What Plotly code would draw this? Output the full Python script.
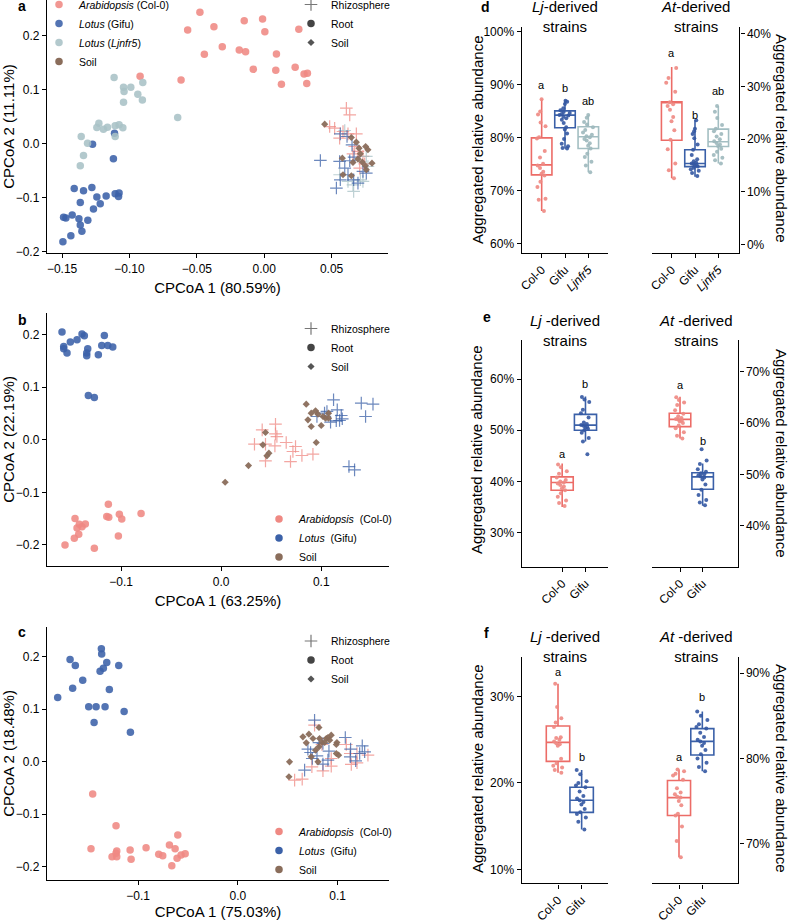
import plotly.graph_objects as go

W, H = 790, 920
FONT = "Liberation Sans, Arial, Helvetica, sans-serif"

# ---------------- colours ----------------
C_AT = "#EF8983"
C_LJ = "#3B61A8"
C_NFR = "#A8C2C6"
C_SOIL = "#8A6D5B"
C_SHAPE = "#555555"
BOX_AT = "#EC6C67"
BOX_LJ = "#3A60A8"
BOX_NFR = "#A3BEC2"

# ================= panel a (CPCoA, 3 genotypes) =================
a_root_col0 = [(-0.0477, 0.2439), (-0.0568, 0.2111), (-0.0373, 0.2173), (-0.0148, 0.2284),
               (-0.0012, 0.2315), (0.0005, 0.2080), (0.0257, 0.2124), (-0.0311, 0.1802),
               (-0.0444, 0.1660), (-0.0185, 0.1740), (-0.0138, 0.1709), (0.0091, 0.1666),
               (-0.0081, 0.1382), (0.0086, 0.1363), (0.0230, 0.1419), (0.0296, 0.1295),
               (0.0321, 0.1308), (0.0128, 0.1104), (0.0316, 0.1116), (-0.0617, 0.1184),
               (-0.0921, 0.1252)]
a_root_nfr5 = [(-0.1114, 0.1227), (-0.1044, 0.1048), (-0.0990, 0.1048), (-0.1040, 0.0968),
               (-0.0938, 0.0918), (-0.0901, 0.1134), (-0.0904, 0.0813), (-0.1044, 0.0770),
               (-0.0642, 0.0485), (-0.1227, 0.0380), (-0.1242, 0.0300), (-0.1163, 0.0306),
               (-0.1106, 0.0331), (-0.1077, 0.0349), (-0.1049, 0.0294), (-0.1193, 0.0269),
               (-0.1358, 0.0133), (-0.1311, 0.0009), (-0.1106, 0.0133), (-0.1341, -0.0219),
               (-0.1365, -0.0411)]
a_root_gifu = [(-0.1274, -0.0009), (-0.1111, 0.0195), (-0.1119, -0.0281), (-0.1410, -0.0831),
               (-0.1341, -0.0875), (-0.1279, -0.0813), (-0.1173, -0.0974), (-0.1106, -0.0930),
               (-0.1081, -0.0980), (-0.1077, -0.0918), (-0.1242, -0.0992), (-0.1217, -0.1116),
               (-0.1365, -0.1091), (-0.1267, -0.1215), (-0.1472, -0.1382), (-0.1425, -0.1326),
               (-0.1375, -0.1394), (-0.1309, -0.1425), (-0.1365, -0.1512), (-0.1353, -0.1629),
               (-0.1489, -0.1369), (-0.1435, -0.1709), (-0.1494, -0.1821)]
a_rhizo_col0 = [(0.0610, 0.0658), (0.0635, 0.0534), (0.0486, 0.0318), (0.0523, 0.0287),
                (0.0585, 0.0226), (0.0622, 0.0182), (0.0684, 0.0182), (0.0672, -0.0053),
                (0.0696, -0.0145), (0.0659, -0.0189), (0.0733, -0.0238), (0.0746, -0.0374),
                (0.0709, -0.0454), (0.0560, 0.0102)]
a_rhizo_gifu = [(0.0417, -0.0312), (0.0536, -0.0825), (0.0565, -0.0671), (0.0652, -0.0022),
                (0.0667, -0.0250), (0.0598, -0.0454), (0.0635, -0.0318), (0.0560, -0.0331),
                (0.0758, -0.0547), (0.0696, -0.0733), (0.0733, -0.0516), (0.0664, -0.0671),
                (0.0622, -0.0578), (0.0565, 0.0182), (0.0615, 0.0133)]
a_rhizo_nfr5 = [(0.0598, 0.0244), (0.0659, -0.0764), (0.0664, -0.0887), (0.0714, -0.0671),
                (0.0758, -0.0238), (0.0560, -0.0578), (0.0733, -0.0702), (0.0622, -0.0702),
                (0.0770, -0.0424)]
a_soil = [(0.0449, 0.0362), (0.0647, 0.0114), (0.0684, 0.0028), (0.0753, -0.0053),
          (0.0770, -0.0114), (0.0714, -0.0189), (0.0696, -0.0287), (0.0728, -0.0343),
          (0.0751, -0.0411), (0.0800, -0.0362), (0.0580, -0.0269), (0.0659, -0.0349),
          (0.0647, -0.0597), (0.0758, -0.0485), (0.0585, -0.0578), (0.0704, -0.0084)]

# ================= panel b =================
b_root_gifu = [(-0.1590, 0.2051), (-0.1573, 0.1778), (-0.1573, 0.1733), (-0.1540, 0.1651),
               (-0.1507, 0.1860), (-0.1440, 0.1905), (-0.1390, 0.2013), (-0.1367, 0.1981),
               (-0.1333, 0.1733), (-0.1343, 0.1651), (-0.1343, 0.1600), (-0.1227, 0.1619),
               (-0.1193, 0.1797), (-0.1167, 0.1987), (-0.1133, 0.1797), (-0.1083, 0.1765),
               (-0.1327, 0.0844), (-0.1267, 0.0806)]
b_root_col0 = [(-0.1127, -0.1225), (-0.1143, -0.1460), (-0.1123, -0.1473), (-0.1017, -0.1416),
               (-0.0993, -0.1505), (-0.0800, -0.1403), (-0.1027, -0.1829), (-0.1460, -0.1498),
               (-0.1417, -0.1606), (-0.1390, -0.1651), (-0.1440, -0.1676), (-0.1357, -0.1600),
               (-0.1423, -0.1797), (-0.1467, -0.1873), (-0.1560, -0.2000), (-0.1267, -0.2063)]
b_rhizo_col0 = [(0.0410, 0.0190), (0.0543, 0.0298), (0.0543, 0.0114), (0.0557, 0.0063),
                (0.0333, -0.0083), (0.0443, -0.0083), (0.0537, -0.0114), (0.0650, -0.0051),
                (0.0743, -0.0127), (0.0717, -0.0222), (0.0807, -0.0298), (0.0917, -0.0273),
                (0.0693, -0.0413), (0.0443, -0.0400)]
b_rhizo_gifu = [(0.1123, 0.0762), (0.1400, 0.0698), (0.1517, 0.0679), (0.1160, 0.0571),
                (0.1443, 0.0444), (0.0957, 0.0444), (0.1033, 0.0508), (0.1057, 0.0540),
                (0.1200, 0.0463), (0.1210, 0.0400), (0.1150, 0.0362), (0.1093, 0.0337),
                (0.1183, 0.0368), (0.1277, -0.0508), (0.1333, -0.0571)]
b_soil = [(0.0850, 0.0679), (0.0900, 0.0508), (0.0943, 0.0552), (0.0867, 0.0381),
          (0.0900, 0.0254), (0.1000, 0.0273), (0.1073, 0.0508), (0.1073, 0.0413),
          (0.1017, 0.0444), (0.0950, -0.0051), (0.0443, 0.0140), (0.0417, -0.0095),
          (0.0477, -0.0254), (0.0457, -0.0305), (0.0273, -0.0489), (0.0040, -0.0806),
          (0.1043, 0.0413), (0.0967, 0.0489)]

# ================= panel c =================
c_root_gifu = [(-0.1806, 0.1220), (-0.1682, 0.1943), (-0.1629, 0.1829), (-0.1656, 0.1398),
               (-0.1555, 0.1550), (-0.1495, 0.1043), (-0.1441, 0.0745), (-0.1421, 0.1043),
               (-0.1381, 0.1721), (-0.1368, 0.2152), (-0.1365, 0.2051), (-0.1348, 0.1778),
               (-0.1331, 0.1043), (-0.1314, 0.1886), (-0.1288, 0.1372), (-0.1194, 0.1829),
               (-0.1140, 0.0954), (-0.1077, 0.0561)]
c_root_col0 = [(-0.1455, -0.0618), (-0.1472, -0.1658), (-0.1221, -0.1220), (-0.1214, -0.1702),
               (-0.1221, -0.1746), (-0.1261, -0.1810), (-0.1214, -0.1810), (-0.1080, -0.1683),
               (-0.1070, -0.1861), (-0.0920, -0.1639), (-0.0793, -0.1765), (-0.0753, -0.1791),
               (-0.0686, -0.1588), (-0.0629, -0.1658), (-0.0602, -0.1398), (-0.0662, -0.1981),
               (-0.0609, -0.1842), (-0.0569, -0.1778), (-0.0528, -0.1753)]
c_rhizo_gifu = [(0.0769, 0.0789), (0.0813, 0.0364), (0.0853, 0.0345), (0.0913, 0.0200),
                (0.0702, 0.0238), (0.0729, 0.0174), (0.1077, 0.0460), (0.0793, 0.0111),
                (0.0903, 0.0029), (0.0853, -0.0048), (0.1130, 0.0238), (0.1247, 0.0301),
                (0.1221, 0.0155), (0.1181, 0.0016), (0.0669, -0.0162), (0.1127, 0.0092),
                (0.1271, 0.0187), (0.0746, 0.0060)]
c_rhizo_col0 = [(0.0769, 0.0694), (0.1087, 0.0326), (0.0936, 0.0060), (0.0936, -0.0086),
                (0.0853, -0.0174), (0.0742, -0.0098), (0.0569, -0.0352), (0.0645, -0.0333),
                (0.1137, -0.0054), (0.1194, -0.0022), (0.1127, 0.0155), (0.1304, 0.0124),
                (0.0843, 0.0326), (0.1194, 0.0155)]
c_soil = [(0.0813, 0.0650), (0.0652, 0.0472), (0.0712, 0.0523), (0.0686, 0.0358),
          (0.0753, 0.0441), (0.0819, 0.0441), (0.0843, 0.0364), (0.0870, 0.0364),
          (0.0886, 0.0441), (0.0936, 0.0504), (0.0920, 0.0409), (0.0993, 0.0364),
          (0.0987, 0.0326), (0.0813, 0.0282), (0.0736, 0.0092), (0.0803, -0.0003),
          (0.0987, 0.0155), (0.1010, 0.0124), (0.0518, -0.0003), (0.0512, -0.0288),
          (0.0779, 0.0219), (0.0903, 0.0460)]

# ================= boxplots d, e, f =================
CATS3 = ["Col-0", "Gifu", "Ljnfr5"]
CATS2 = ["Col-0", "Gifu"]
TICKTEXT3 = ["Col-0", "Gifu", "<i>Ljnfr5</i>"]

# panel d
d_lj_col0 = [87.3, 85.0, 84.4, 82.9, 82.2, 80.1, 79.9, 77.5, 76.3, 75.1, 74.8, 74.3, 73.6,
             73.2, 72.9, 71.7, 70.7, 68.5, 68.3, 66.2]
d_lj_gifu = [87.0, 86.8, 86.4, 85.6, 85.2, 84.9, 84.7, 84.5, 84.3, 84.2, 84.0, 83.7, 83.4,
             82.8, 82.0, 81.6, 80.8, 79.8, 78.9, 78.4, 78.1, 78.0]
d_lj_nfr5 = [84.3, 83.8, 83.0, 82.5, 82.0, 81.5, 81.0, 80.6, 80.3, 80.1, 79.8, 79.5, 79.0,
             78.5, 78.0, 77.0, 76.4, 75.5, 74.8, 73.5]
d_at_col0 = [33.5, 31.6, 30.7, 29.0, 27.0, 26.6, 26.3, 25.6, 24.2, 23.4, 21.7, 19.9, 18.1,
             15.4, 14.1, 12.6]
d_at_gifu = [23.6, 22.0, 21.5, 21.0, 20.2, 19.0, 18.0, 17.0, 16.2, 15.8, 15.6, 15.4, 15.3,
             15.1, 15.0, 14.8, 14.6, 14.3, 14.0, 13.6, 13.0]
d_at_nfr5 = [26.3, 25.2, 24.0, 22.7, 22.0, 21.5, 21.0, 20.5, 20.0, 19.6, 19.3, 19.0, 18.7,
             18.2, 17.6, 17.0, 16.5, 16.0, 15.4]
# box statistics [lower whisker, q1, median, q3, upper whisker]
d_lj_stats = {"Col-0": [66.2, 73.0, 74.9, 80.0, 87.3], "Gifu": [78.0, 81.9, 84.3, 85.1, 87.1],
              "Ljnfr5": [73.5, 78.0, 80.2, 82.1, 84.3]}
d_at_stats = {"Col-0": [12.6, 19.8, 26.9, 27.1, 33.7], "Gifu": [12.9, 14.8, 15.4, 18.0, 23.6],
              "Ljnfr5": [15.4, 18.6, 19.5, 21.9, 26.3]}
d_lj_letters = {"Col-0": ("a", 90.0), "Gifu": ("b", 89.5), "Ljnfr5": ("ab", 86.9)}
d_at_letters = {"Col-0": ("a", 36.4), "Gifu": ("b", 24.6), "Ljnfr5": ("ab", 29.2)}

# panel e
e_lj_col0 = [43.3, 42.8, 42.0, 41.5, 40.8, 40.3, 40.0, 39.8, 39.6, 39.3, 39.0, 38.7, 38.3,
             37.7, 37.0, 36.3, 35.8, 35.2]
e_lj_gifu = [56.5, 56.0, 55.5, 54.0, 53.3, 52.5, 51.5, 51.2, 51.0, 50.9, 50.7, 50.5, 50.3,
             50.0, 49.5, 48.5, 47.8, 45.3]
e_at_col0 = [65.0, 64.5, 64.0, 63.5, 62.5, 61.8, 61.3, 61.0, 60.8, 60.7, 60.5, 60.3, 60.0,
             59.5, 59.0, 58.2, 57.5, 57.0]
e_at_gifu = [54.9, 52.7, 52.0, 51.0, 50.5, 50.2, 50.0, 49.8, 49.6, 49.4, 49.0, 48.0, 47.0,
             46.0, 45.0, 44.5, 44.0]
e_lj_stats = {"Col-0": [35.0, 38.3, 39.8, 40.9, 43.5], "Gifu": [47.8, 50.0, 51.0, 53.1, 56.6]}
e_at_stats = {"Col-0": [57.0, 59.3, 60.7, 61.9, 65.1], "Gifu": [43.9, 47.1, 49.5, 50.3, 52.1]}
e_lj_letters = {"Col-0": ("a", 45.4), "Gifu": ("b", 59.0)}
e_at_letters = {"Col-0": ("a", 67.4), "Gifu": ("b", 56.4)}

# panel f
f_lj_col0 = [31.5, 28.8, 27.5, 27.0, 26.5, 25.3, 25.2, 25.0, 24.8, 24.6, 24.5, 24.3, 22.8,
             22.3, 22.0, 21.8, 21.5, 21.2]
f_lj_gifu = [21.5, 21.0, 20.2, 20.0, 19.7, 19.5, 19.0, 18.5, 18.2, 18.0, 17.8, 17.5, 17.0,
             16.6, 16.4, 16.0, 15.5, 14.6]
f_at_col0 = [78.7, 78.5, 78.2, 78.0, 77.5, 76.5, 76.0, 75.8, 75.5, 75.4, 75.0, 74.5, 73.5,
             73.3, 72.0, 70.3, 68.4]
f_at_gifu = [85.5, 85.0, 84.5, 84.0, 83.7, 83.5, 83.0, 82.5, 82.2, 82.0, 81.8, 81.5, 81.0,
             80.5, 80.0, 79.5, 79.0, 78.5]
f_lj_stats = {"Col-0": [21.2, 22.5, 24.7, 26.6, 31.5], "Gifu": [14.6, 16.6, 18.0, 19.5, 21.5]}
f_at_stats = {"Col-0": [68.4, 73.3, 75.4, 77.4, 78.7], "Gifu": [78.5, 80.4, 82.0, 83.5, 85.5]}
f_lj_letters = {"Col-0": ("a", 32.9), "Gifu": ("b", 23.0)}
f_at_letters = {"Col-0": ("a", 80.2), "Gifu": ("b", 87.2)}

# ---------------- helpers ----------------
def fx(p):
    return p / W


def fy(p):
    return 1 - p / H


AX_STYLE = dict(showline=True, linecolor="black", linewidth=1.4, ticks="outside", ticklen=4,
                tickwidth=1, tickcolor="black", showgrid=False, zeroline=False,
                automargin=False,
                tickfont=dict(size=12, color="black", family=FONT))

fig = go.Figure()


def add_scatter(points, ax, kind, color, name=None, legend=None, showlegend=False):
    xs = [p[0] for p in points]
    ys = [p[1] for p in points]
    if kind == "root":
        marker = dict(symbol="circle", size=7.5, color=color, opacity=0.88, line=dict(width=0))
    elif kind == "rhizo":
        marker = dict(symbol="cross-thin", size=9, color=color, opacity=0.75,
                      line=dict(color=color, width=1.2))
    else:
        marker = dict(symbol="diamond", size=5.5, color=color, opacity=0.95, line=dict(width=0))
    fig.add_trace(go.Scatter(x=xs, y=ys, mode="markers", marker=marker, xaxis="x" + ax,
                             yaxis="y" + ax, name=name, legend=legend, showlegend=showlegend,
                             hoverinfo="skip"))


def legend_entry(name, legend, symbol, size, color, ax, line=None):
    m = dict(symbol=symbol, size=size, color=color)
    if line:
        m["line"] = line
    fig.add_trace(go.Scatter(x=[None], y=[None], mode="markers", marker=m, name=name,
                             legend=legend, showlegend=True, xaxis="x" + ax, yaxis="y" + ax))


def shape_legend(legend, ax):
    legend_entry("Rhizosphere", legend, "cross-thin", 9, C_SHAPE, ax,
                 line=dict(color="#777777", width=1.2))
    legend_entry("Root", legend, "circle", 7.5, "#444444", ax)
    legend_entry("Soil", legend, "diamond", 5.5, C_SHAPE, ax)


# ---- panel a traces
add_scatter(a_rhizo_col0, "", "rhizo", C_AT)
add_scatter(a_rhizo_nfr5, "", "rhizo", C_NFR)
add_scatter(a_rhizo_gifu, "", "rhizo", C_LJ)
add_scatter(a_soil, "", "soil", C_SOIL)
add_scatter(a_root_col0, "", "root", C_AT, "<i>Arabidopsis</i> (Col-0)", "legend", True)
add_scatter(a_root_gifu, "", "root", C_LJ, "<i>Lotus</i> (Gifu)", "legend", True)
add_scatter(a_root_nfr5, "", "root", C_NFR, "<i>Lotus</i> (<i>Ljnfr5</i>)", "legend", True)
legend_entry("Soil", "legend", "circle", 7.5, C_SOIL, "")
shape_legend("legend2", "")

# ---- panel b traces
add_scatter(b_rhizo_col0, "2", "rhizo", C_AT)
add_scatter(b_rhizo_gifu, "2", "rhizo", C_LJ)
add_scatter(b_soil, "2", "soil", C_SOIL)
add_scatter(b_root_gifu, "2", "root", C_LJ)
add_scatter(b_root_col0, "2", "root", C_AT)
shape_legend("legend3", "2")
legend_entry("<i>Arabidopsis</i>  (Col-0)", "legend4", "circle", 7.5, C_AT, "2")
legend_entry("<i>Lotus</i>  (Gifu)", "legend4", "circle", 7.5, C_LJ, "2")
legend_entry("Soil", "legend4", "circle", 7.5, C_SOIL, "2")

# ---- panel c traces
add_scatter(c_rhizo_col0, "3", "rhizo", C_AT)
add_scatter(c_rhizo_gifu, "3", "rhizo", C_LJ)
add_scatter(c_soil, "3", "soil", C_SOIL)
add_scatter(c_root_gifu, "3", "root", C_LJ)
add_scatter(c_root_col0, "3", "root", C_AT)
shape_legend("legend5", "3")
legend_entry("<i>Arabidopsis</i>  (Col-0)", "legend6", "circle", 7.5, C_AT, "3")
legend_entry("<i>Lotus</i>  (Gifu)", "legend6", "circle", 7.5, C_LJ, "3")
legend_entry("Soil", "legend6", "circle", 7.5, C_SOIL, "3")

# ---- scatter axes
scatter_axes = [
    # suffix, x px, y px, x range, y range, x ticks, x format, x title, y title
    ("", (47, 388), (0, 253), [-0.1612, 0.0919], [-0.2031, 0.2668],
     [-0.15, -0.10, -0.05, 0.0, 0.05], ".2f", "CPCoA 1 (80.59%)", "CPCoA 2 (11.11%)"),
    ("2", (47, 389), (313, 566), [-0.174, 0.1677], [-0.24, 0.2413],
     [-0.1, 0.0, 0.1], ".1f", "CPCoA 1 (63.25%)", "CPCoA 2 (22.19%)"),
    ("3", (47, 389), (627, 880), [-0.1913, 0.1515], [-0.2254, 0.2564],
     [-0.1, 0.0, 0.1], ".1f", "CPCoA 1 (75.03%)", "CPCoA 2 (18.48%)"),
]
layout_axes = {}
for s, xp, yp, xr, yr, xt, xf, xtitle, ytitle in scatter_axes:
    layout_axes["xaxis" + s] = dict(AX_STYLE, domain=[fx(xp[0]), fx(xp[1])], range=xr,
                                    anchor="y" + s, tickvals=xt, tickformat=xf,
                                    title=dict(text=xtitle, standoff=7,
                                               font=dict(size=15, color="black", family=FONT)))
    layout_axes["yaxis" + s] = dict(AX_STYLE, domain=[fy(yp[1]), fy(yp[0])], range=yr,
                                    anchor="x" + s, tickvals=[-0.2, -0.1, 0.0, 0.1, 0.2],
                                    tickformat=".1f",
                                    title=dict(text=ytitle, standoff=5,
                                               font=dict(size=15, color="black", family=FONT)))

# ---- box panels
box_facets = [
    # suffix, x px, y px, x range, y range, y ticks, side, cats, ticktext, groups, stats, letters, width
    ("4", (521.7, 608.3), (27, 253), [-0.857, 2.857], [58.25, 100.94], [60, 70, 80, 90, 100],
     "left", CATS3, TICKTEXT3, [d_lj_col0, d_lj_gifu, d_lj_nfr5], d_lj_stats, d_lj_letters, 0.88),
    ("5", (651.7, 739.3), (27, 253), [-0.857, 2.9], [-1.57, 41.26], [0, 10, 20, 30, 40],
     "right", CATS3, TICKTEXT3, [d_at_col0, d_at_gifu, d_at_nfr5], d_at_stats, d_at_letters, 0.88),
    ("6", (521.7, 608.3), (340, 566.7), [-1.736, 1.979], [23.37, 67.61], [30, 40, 50, 60],
     "left", CATS2, CATS2, [e_lj_col0, e_lj_gifu], e_lj_stats, e_lj_letters, 0.95),
    ("7", (651.7, 738.3), (340, 566.7), [-1.25, 2.574], [32.01, 76.17], [40, 50, 60, 70],
     "right", CATS2, CATS2, [e_at_col0, e_at_gifu], e_at_stats, e_at_letters, 0.95),
    ("8", (521.7, 608.3), (656.7, 883.3), [-1.535, 2.127], [8.38, 34.63], [10, 20, 30],
     "left", CATS2, CATS2, [f_lj_col0, f_lj_gifu], f_lj_stats, f_lj_letters, 0.99),
    ("9", (651.7, 738.3), (656.7, 883.3), [-1.171, 2.543], [65.34, 91.94], [70, 80, 90],
     "right", CATS2, CATS2, [f_at_col0, f_at_gifu], f_at_stats, f_at_letters, 0.99),
]
BOX_COLORS = {"Col-0": BOX_AT, "Gifu": BOX_LJ, "Ljnfr5": BOX_NFR}
PT_COLORS = {"Col-0": "#EE8882", "Gifu": "#3458A2", "Ljnfr5": "#9DB8BC"}

annotations = []
for s, xp, yp, xr, yr, yt, side, cats, ttext, groups, stats, letters, bw in box_facets:
    layout_axes["xaxis" + s] = dict(AX_STYLE, domain=[fx(xp[0]), fx(xp[1])], range=xr,
                                    anchor="y" + s, type="category", categoryorder="array",
                                    categoryarray=cats, tickvals=cats, ticktext=ttext,
                                    tickangle=-45)
    layout_axes["yaxis" + s] = dict(AX_STYLE, domain=[fy(yp[1]), fy(yp[0])], range=yr,
                                    anchor="x" + s, side=side, tickvals=yt,
                                    ticktext=[str(v) + "%" for v in yt])
    for cat, vals in zip(cats, groups):
        lo, q1, med, q3, hi = stats[cat]
        fig.add_trace(go.Box(x=[cat], q1=[q1], median=[med], q3=[q3], lowerfence=[lo],
                             upperfence=[hi], width=bw, whiskerwidth=0, boxpoints=False,
                             line=dict(color=BOX_COLORS[cat], width=1.6),
                             fillcolor="rgba(255,255,255,0)", xaxis="x" + s, yaxis="y" + s,
                             showlegend=False, hoverinfo="skip"))
        fig.add_trace(go.Box(x=[cat] * len(vals), y=vals, width=bw, boxpoints="all",
                             jitter=0.55, pointpos=0, whiskerwidth=0,
                             line=dict(color=BOX_COLORS[cat], width=0),
                             fillcolor="rgba(255,255,255,0)",
                             marker=dict(size=4, color=PT_COLORS[cat], opacity=0.9),
                             xaxis="x" + s, yaxis="y" + s, showlegend=False))
        txt, yv = letters[cat]
        annotations.append(dict(x=cats.index(cat), y=yv, xref="x" + s, yref="y" + s, text=txt,
                                xanchor="center", yanchor="middle", showarrow=False,
                                font=dict(size=11, color="black", family=FONT)))

# y titles of the box panels (left: reading upwards, right: reading downwards)
for yc in [140, 450, 769]:
    annotations.append(dict(x=fx(477), y=fy(yc), xref="paper", yref="paper",
                            xanchor="center", yanchor="middle",
                            text="Aggregated relative abundance", textangle=-90, showarrow=False,
                            font=dict(size=15, color="black", family=FONT)))
for yc in [138, 453, 768]:
    annotations.append(dict(x=fx(782), y=fy(yc), xref="paper", yref="paper",
                            xanchor="center", yanchor="middle",
                            text="Aggregated relative abundance", textangle=90, showarrow=False,
                            font=dict(size=15, color="black", family=FONT)))

# facet strip titles
for yc, sp in [(17, ""), (330, " "), (646, " ")]:
    annotations.append(dict(x=fx(565), y=fy(yc), xref="paper", yref="paper",
                            xanchor="center", yanchor="middle",
                            text="<i>Lj</i>" + sp + "-derived<br>strains", showarrow=False,
                            font=dict(size=15, color="black", family=FONT)))
    annotations.append(dict(x=fx(695.5), y=fy(yc), xref="paper", yref="paper",
                            xanchor="center", yanchor="middle",
                            text="<i>At</i>" + sp + "-derived<br>strains", showarrow=False,
                            font=dict(size=15, color="black", family=FONT)))

# panel letters
for letter, px, py in [("a", 22, 6), ("b", 22, 320), ("c", 22, 632),
                       ("d", 485, 7), ("e", 487, 317), ("f", 487, 633)]:
    annotations.append(dict(x=fx(px), y=fy(py), xref="paper", yref="paper",
                            xanchor="center", yanchor="middle",
                            text="<b>" + letter + "</b>", showarrow=False,
                            font=dict(size=14, color="black", family=FONT)))

LEG = dict(bgcolor="rgba(0,0,0,0)", borderwidth=0, xanchor="left", yanchor="top",
           font=dict(size=10.5, color="black", family=FONT), itemclick=False,
           itemdoubleclick=False)

fig.update_layout(
    template="none",
    width=W, height=H, margin=dict(l=0, r=0, t=0, b=0, pad=0, autoexpand=False),
    paper_bgcolor="white", plot_bgcolor="white",
    font=dict(family=FONT, color="black"),
    boxmode="overlay",
    annotations=annotations,
    legend=dict(LEG, x=fx(39), y=fy(-10)),
    legend2=dict(LEG, x=fx(291), y=fy(-10)),
    legend3=dict(LEG, x=fx(291), y=fy(314)),
    legend4=dict(LEG, x=fx(259), y=fy(504.5)),
    legend5=dict(LEG, x=fx(291), y=fy(626.5)),
    legend6=dict(LEG, x=fx(259), y=fy(817)),
    **layout_axes,
)

fig.write_html("out.html", config={"displayModeBar": False},
               post_script="document.body.style.margin='0';document.body.style.overflow='hidden';")
